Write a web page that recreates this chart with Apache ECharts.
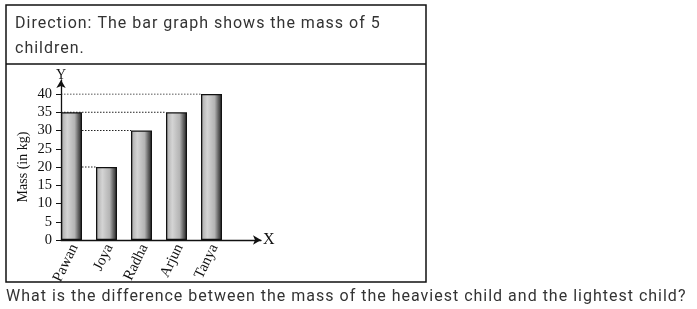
<!DOCTYPE html>
<html>
<head>
<meta charset="utf-8">
<script src="https://cdn.jsdelivr.net/npm/echarts@6/dist/echarts.min.js"></script>
<style>
html,body{margin:0;padding:0;background:#fff;}
#wrap{position:relative;width:697px;height:309px;}
#bg,#c{position:absolute;left:0;top:0;width:697px;height:309px;}
</style>
</head>
<body>
<div id="wrap"><div id="bg"></div><div id="c"></div></div>
<script>
var categories = ['Pawan', 'Joya', 'Radha', 'Arjun', 'Tanya'];
var masses = [35, 20, 30, 35, 40];
var yTicks = [0, 5, 10, 15, 20, 25, 30, 35, 40];
var headerLines = ['Direction: The bar graph shows the mass of 5', 'children.'];
var questionText = 'What is the difference between the mass of the heaviest child and the lightest child?';

var serif = '"Liberation Serif", "DejaVu Serif", serif';

// Background layer: frame and surrounding text (letter-spaced like the reference)
var bgOption = {
  animation: false,
  backgroundColor: '#fff',
  graphic: [
    { type: 'rect', shape: { x: 6, y: 5, width: 420, height: 277 }, style: { fill: 'none', stroke: '#111', lineWidth: 1.5 } },
    { type: 'line', shape: { x1: 6, y1: 64, x2: 426, y2: 64 }, style: { stroke: '#111', lineWidth: 1.5 } },
    { type: 'text', left: 15, top: 16, style: { text: headerLines[0], font: '16px Roboto', fill: '#333' } },
    { type: 'text', left: 15, top: 41, style: { text: headerLines[1], font: '16px Roboto', fill: '#333' } },
    { type: 'text', left: 6, top: 289, style: { text: questionText, font: '16px Roboto', fill: '#333' } }
  ]
};
var bg = echarts.init(document.getElementById('bg'), null, { renderer: 'canvas' });
bg.setOption(bgOption);
try {
  var cv = document.getElementById('bg').querySelector('canvas');
  var cx = cv.getContext('2d');
  if ('letterSpacing' in cx) {
    cx.letterSpacing = '1px';
    bg.setOption(bgOption, true);
  }
} catch (e) {}

var barData = masses.map(function (v, i) { return [i + 0.3, v]; });
var guideSeries = [];
masses.forEach(function (v, i) {
  if (i === 0) return;
  guideSeries.push({
    type: 'line', xAxisIndex: 1, yAxisIndex: 1, symbol: 'none', z: 1, silent: true,
    lineStyle: { color: '#222', width: 1, type: [1.5, 1.5] },
    data: [[0, v], [i, v]]
  });
});

var chart = echarts.init(document.getElementById('c'), null, { renderer: 'canvas' });
chart.setOption({
  animation: false,
  backgroundColor: 'transparent',
  grid: [
    { left: 61, width: 200, top: 80, bottom: 69 },
    { left: 61, width: 175, top: 94, bottom: 69 },
    { left: 57, width: 175, top: 94, bottom: 69 }
  ],
  xAxis: [
    { gridIndex: 0, type: 'value', min: 0, max: 1, splitLine: { show: false }, axisLabel: { show: false }, axisTick: { show: false },
      axisLine: { show: true, symbol: ['none', 'arrow'], symbolSize: [7, 8], lineStyle: { color: '#111', width: 1.3 } },
      name: 'X', nameLocation: 'end', nameGap: 2, nameTextStyle: { fontFamily: serif, fontSize: 16, color: '#111' } },
    { gridIndex: 1, type: 'value', min: 0, max: 5, show: false },
    { gridIndex: 2, type: 'category', data: categories, axisLine: { show: false }, axisTick: { show: false },
      axisLabel: { interval: 0, rotate: 64, margin: 5, fontFamily: serif, fontSize: 15, color: '#111' } }
  ],
  yAxis: [
    { gridIndex: 0, type: 'value', min: 0, max: 1, splitLine: { show: false }, axisLabel: { show: false }, axisTick: { show: false },
      axisLine: { show: true, symbol: ['none', 'arrow'], symbolSize: [7, 8], lineStyle: { color: '#111', width: 1.3 } },
      name: 'Y', nameLocation: 'end', nameGap: 0, nameTextStyle: { fontFamily: serif, fontSize: 14, color: '#111', padding: [0, 0, -2, 0] } },
    { gridIndex: 1, type: 'value', min: yTicks[0], max: yTicks[yTicks.length - 1], interval: yTicks[1] - yTicks[0],
      splitLine: { show: false }, axisLine: { show: false },
      axisTick: { show: true, length: 5, lineStyle: { color: '#111', width: 1 } },
      axisLabel: { margin: 9, fontFamily: serif, fontSize: 14.5, color: '#111' },
      name: 'Mass (in kg)', nameLocation: 'middle', nameRotate: 90, nameGap: 31,
      nameTextStyle: { fontFamily: serif, fontSize: 14, color: '#111' } },
    { gridIndex: 2, type: 'value', show: false }
  ],
  series: guideSeries.concat([{
    type: 'bar', xAxisIndex: 1, yAxisIndex: 1, barWidth: 21, z: 3,
    itemStyle: {
      borderColor: '#111', borderWidth: 1.3,
      color: new echarts.graphic.LinearGradient(0, 0, 1, 0, [
        { offset: 0, color: '#a8a8a8' },
        { offset: 0.3, color: '#d4d4d4' },
        { offset: 0.65, color: '#b4b4b4' },
        { offset: 0.85, color: '#5a5a5a' },
        { offset: 1, color: '#262626' }
      ])
    },
    data: barData
  }])
});
</script>
</body>
</html>
